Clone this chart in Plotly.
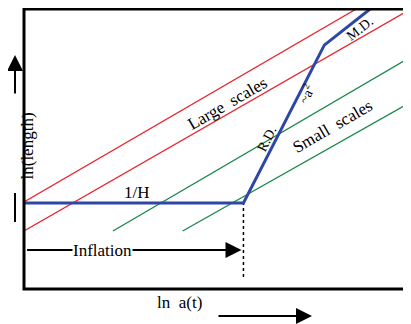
import plotly.graph_objects as go

# Hubble radius (comoving 1/H) vs ln a(t)
hubble_x = [0.0, 5.70, 7.80, 8.99]
hubble_y = [3.07, 3.07, 8.71, 10.0]

# comoving scales (straight lines in ln length vs ln a)
large1_x = [0.0, 8.63]
large1_y = [3.11, 10.0]
large2_x = [0.0, 10.0]
large2_y = [2.07, 9.96]
small1_x = [2.31, 10.0]
small1_y = [2.07, 8.25]
small2_x = [4.12, 10.0]
small2_y = [2.07, 6.64]

# end of inflation marker
end_infl_x = [5.70, 5.70]
end_infl_y = [0.43, 3.07]

RED = "#e8232b"
GREEN = "#17874a"
BLUE = "#2c47a6"
FONT = "Liberation Serif"

# page body has an 8px margin; figure placed so plot box lands at (24,9)-(409,289)
OFF = 8
W, H = 411 - OFF, 324 - OFF
ML, MT, MR, MB = 24 - OFF, 9 - OFF, 2, 35
PW, PH = W - ML - MR, H - MT - MB
AS, AW = 1.6, 2


def px_to_paper(px, py):
    return (px - 24) / PW, (289 - py) / PH


fig = go.Figure()
for xs, ys in [(large1_x, large1_y), (large2_x, large2_y)]:
    fig.add_trace(go.Scatter(x=xs, y=ys, mode="lines",
                             line=dict(color=RED, width=1.3), hoverinfo="skip"))
for xs, ys in [(small1_x, small1_y), (small2_x, small2_y)]:
    fig.add_trace(go.Scatter(x=xs, y=ys, mode="lines",
                             line=dict(color=GREEN, width=1.3), hoverinfo="skip"))
fig.add_trace(go.Scatter(x=end_infl_x, y=end_infl_y, mode="lines",
                         line=dict(color="black", width=1.5, dash="dot"), hoverinfo="skip"))
fig.add_trace(go.Scatter(x=hubble_x, y=hubble_y, mode="lines",
                         line=dict(color=BLUE, width=3), hoverinfo="skip"))


def txt(x, y, s, angle=0, size=17, bg=None):
    fig.add_annotation(x=x, y=y, xref="x", yref="y", text=s, showarrow=False,
                       textangle=angle, font=dict(family=FONT, size=size, color="black"),
                       bgcolor=bg, borderpad=0)


txt(5.28, 6.64, "Large  scales", -30, 17)
txt(8.01, 5.82, "Small  scales", -30, 17)
txt(6.32, 5.36, "R.D.", -63, 14)
txt(7.31, 6.98, "~a<sup>2</sup>", -63, 14)
txt(8.73, 9.30, "M.D.", -38, 14)
txt(2.93, 3.46, "1/H", 0, 17)

# Inflation arrow
fig.add_shape(type="line", xref="x", yref="y", x0=0.08, y0=1.39, x1=5.4, y1=1.39,
              line=dict(color="black", width=2))
fig.add_annotation(x=5.65, y=1.39, xref="x", yref="y", ax=-30, ay=0, text="",
                   showarrow=True, arrowhead=2, arrowsize=AS, arrowwidth=AW, arrowcolor="black")
txt(2.05, 1.39, "Inflation", 0, 17, bg="white")

# border box
fig.add_shape(type="rect", xref="paper", yref="paper", x0=0, y0=0, x1=1, y1=1,
              line=dict(color="black", width=3))

# y-axis label with arrow
lx, _ = px_to_paper(15, 0)
fig.add_annotation(x=lx, y=px_to_paper(0, 146)[1], xref="paper", yref="paper", text="ln(length)",
                   showarrow=False, textangle=-90, font=dict(family=FONT, size=17, color="black"))
fig.add_annotation(x=lx, y=px_to_paper(0, 55)[1], xref="paper", yref="paper", ax=0, ay=40,
                   text="", showarrow=True, arrowhead=2, arrowsize=AS, arrowwidth=AW,
                   arrowcolor="black")
fig.add_shape(type="line", xref="paper", yref="paper", x0=lx, x1=lx,
              y0=px_to_paper(0, 193)[1], y1=px_to_paper(0, 222)[1],
              line=dict(color="black", width=2))

# x-axis label with arrow
fig.add_annotation(x=px_to_paper(179, 0)[0], y=px_to_paper(0, 314)[1], xref="paper", yref="paper",
                   text="ln  a(t)", showarrow=False, font=dict(family=FONT, size=17, color="black"))
fig.add_annotation(x=px_to_paper(312, 0)[0], y=px_to_paper(0, 316)[1], xref="paper", yref="paper",
                   ax=-95, ay=0, text="", showarrow=True, arrowhead=2, arrowsize=AS,
                   arrowwidth=AW, arrowcolor="black")

fig.update_layout(
    width=W, height=H, showlegend=False,
    margin=dict(l=ML, r=MR, t=MT, b=MB),
    plot_bgcolor="white", paper_bgcolor="white",
    xaxis=dict(range=[0, 10], visible=False, fixedrange=True),
    yaxis=dict(range=[0, 10], visible=False, fixedrange=True),
)
fig.write_html("out.html")
